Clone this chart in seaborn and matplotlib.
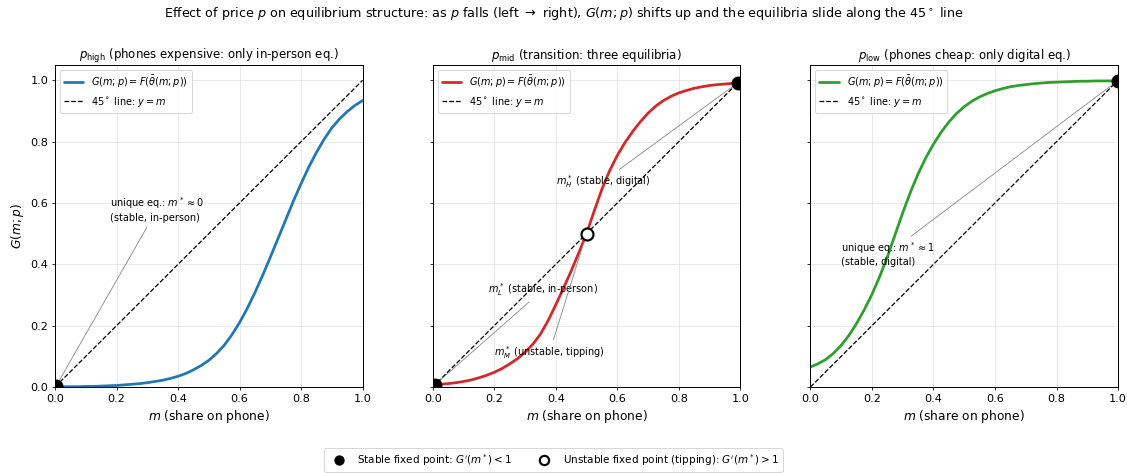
import numpy as np
import matplotlib
matplotlib.use("Agg")
import matplotlib.pyplot as plt
from matplotlib.lines import Line2D
import seaborn as sns

# Share of users on phone
m_grid = [i * 0.025 for i in range(41)]

# G(m; p) for the three price levels
g_high = [0.001, 0.001, 0.001, 0.001, 0.002, 0.002, 0.003, 0.004, 0.005, 0.007,
          0.009, 0.011, 0.014, 0.018, 0.022, 0.028, 0.035, 0.044, 0.056, 0.070,
          0.087, 0.109, 0.136, 0.170, 0.210, 0.256, 0.308, 0.364, 0.423, 0.484,
          0.545, 0.606, 0.663, 0.717, 0.765, 0.808, 0.845, 0.874, 0.898, 0.918,
          0.934]
g_mid = [0.007, 0.009, 0.011, 0.014, 0.018, 0.023, 0.030, 0.038, 0.048, 0.060,
         0.075, 0.092, 0.113, 0.139, 0.172, 0.216, 0.268, 0.322, 0.378, 0.438,
         0.500, 0.574, 0.645, 0.705, 0.755, 0.797, 0.833, 0.865, 0.893, 0.916,
         0.934, 0.948, 0.959, 0.967, 0.974, 0.979, 0.983, 0.986, 0.988, 0.990,
         0.992]
g_low = [0.065, 0.076, 0.090, 0.110, 0.136, 0.168, 0.207, 0.252, 0.302, 0.360,
         0.424, 0.496, 0.568, 0.635, 0.695, 0.747, 0.792, 0.831, 0.864, 0.892,
         0.914, 0.932, 0.946, 0.957, 0.966, 0.973, 0.979, 0.983, 0.986, 0.989,
         0.991, 0.993, 0.994, 0.995, 0.996, 0.997, 0.997, 0.998, 0.998, 0.998,
         0.999]

# Fixed points m* = G(m*)
stable_high = [0.004]
stable_mid = [0.007, 0.992]
unstable_mid = [0.5]
stable_low = [0.999]

panel_titles = [
    r"$p_{\mathrm{high}}$ (phones expensive: only in-person eq.)",
    r"$p_{\mathrm{mid}}$ (transition: three equilibria)",
    r"$p_{\mathrm{low}}$ (phones cheap: only digital eq.)",
]
curve_colors = ["#1f77b4", "#d62728", "#2ca02c"]
ticks = [0.0, 0.2, 0.4, 0.6, 0.8, 1.0]

sns.set_style("ticks", {"axes.grid": True, "grid.color": "#e6e6e6",
                        "axes.edgecolor": "black", "xtick.color": "black",
                        "ytick.color": "black", "text.color": "black",
                        "axes.labelcolor": "black"})
plt.rcParams["font.family"] = ["DejaVu Sans"]
plt.rcParams["xtick.direction"] = "out"
plt.rcParams["ytick.direction"] = "out"

fig, axes = plt.subplots(1, 3, figsize=(16, 6.715), dpi=70.44, sharey=True)
fig.subplots_adjust(left=0.0488, right=0.992, bottom=0.1818, top=0.8626, wspace=0.228)

curves = [g_high, g_mid, g_low]
stable_pts = [stable_high, stable_mid, stable_low]
unstable_pts = [[], unstable_mid, []]

for ax, g, col, title, st, un in zip(axes, curves, curve_colors, panel_titles,
                                     stable_pts, unstable_pts):
    sns.lineplot(x=m_grid, y=g, ax=ax, color=col, lw=2.8,
                 label=r"$G(m;p) = F(\bar{\theta}(m;p))$")
    sns.lineplot(x=[0.0, 1.0], y=[0.0, 1.0], ax=ax, color="black", lw=1.3,
                 linestyle="--", label=r"45$^\circ$ line: $y = m$")
    if st:
        ax.scatter(st, st, s=175, color="black", zorder=5)
    if un:
        ax.scatter(un, un, s=150, facecolor="white", edgecolor="black",
                   linewidths=2.2, zorder=6)
    ax.set_xlim(0, 1.0)
    ax.set_ylim(0, 1.05)
    ax.set_xticks(ticks)
    ax.set_yticks(ticks)
    ax.grid(True, color="#e3e3e3", lw=0.8)
    ax.set_title(title, fontsize=12)
    ax.set_xlabel(r"$m$ (share on phone)", fontsize=12.5)
    ax.tick_params(labelsize=11.5, length=3.5, width=0.8)
    for sp in ax.spines.values():
        sp.set_linewidth(1.0)
        sp.set_color("black")
    ax.legend(loc="upper left", fontsize=10, framealpha=0.8, edgecolor="#cccccc")

axes[0].set_ylabel(r"$G(m;p)$", fontsize=12.5)

line_kw = dict(arrowstyle="-", color="gray", lw=0.8)

axes[0].annotate("unique eq.: $m^*\\approx 0$\n(stable, in-person)",
                 xy=(stable_high[0], stable_high[0]), xytext=(0.18, 0.535),
                 va="bottom", ha="left", fontsize=10, arrowprops=line_kw)

axes[1].annotate(r"$m_H^*$ (stable, digital)", xy=(stable_mid[1], stable_mid[1]),
                 xytext=(0.40, 0.643), va="bottom", ha="left", fontsize=10,
                 arrowprops=line_kw)
axes[1].annotate(r"$m_L^*$ (stable, in-person)", xy=(stable_mid[0], stable_mid[0]),
                 xytext=(0.18, 0.29), va="bottom", ha="left", fontsize=10,
                 arrowprops=line_kw)
axes[1].annotate(r"$m_M^*$ (unstable, tipping)", xy=(unstable_mid[0], unstable_mid[0]),
                 xytext=(0.20, 0.085), va="bottom", ha="left", fontsize=10,
                 arrowprops=line_kw)

axes[2].annotate("unique eq.: $m^*\\approx 1$\n(stable, digital)",
                 xy=(stable_low[0], stable_low[0]), xytext=(0.10, 0.39),
                 va="bottom", ha="left", fontsize=10, arrowprops=line_kw)

fig.suptitle(r"Effect of price $p$ on equilibrium structure: as $p$ falls (left $\rightarrow$ right), "
             r"$G(m;p)$ shifts up and the equilibria slide along the 45$^\circ$ line",
             fontsize=13.1, y=0.972, va="center")

handles = [
    Line2D([0], [0], marker="o", color="none", markerfacecolor="black",
           markeredgecolor="black", markersize=9.5),
    Line2D([0], [0], marker="o", color="none", markerfacecolor="white",
           markeredgecolor="black", markeredgewidth=2.2, markersize=9.5),
]
fig.legend(handles, [r"Stable fixed point: $G'(m^*) < 1$",
                     r"Unstable fixed point (tipping): $G'(m^*) > 1$"],
           loc="center", bbox_to_anchor=(0.491, 0.0275), ncol=2, fontsize=10.6,
           frameon=True, edgecolor="#cccccc")

fig.savefig("out.png", dpi=70.44)
